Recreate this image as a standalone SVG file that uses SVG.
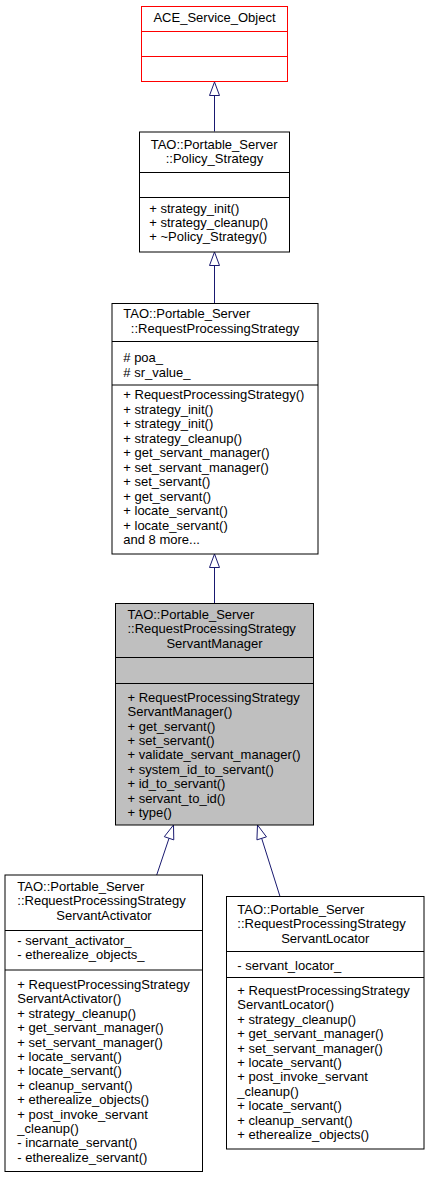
<svg xmlns="http://www.w3.org/2000/svg" width="429" height="1179" viewBox="0 0 429 1179">
<style>
text { font-family: "Liberation Sans", Arial, sans-serif; font-size: 13px; fill: #000; }
.c { text-anchor: middle; }
.box { fill: #fff; stroke: #000; stroke-width: 1; }
.cur { fill: #bfbfbf; stroke: #000; stroke-width: 1; }
.ext { fill: #fff; stroke: #ff0000; stroke-width: 1; }
.sep { stroke: #000; stroke-width: 1; }
.sepr { stroke: #ff0000; stroke-width: 1; }
.edge { stroke: #191970; stroke-width: 1; fill: none; }
.head { fill: #fff; stroke: #191970; stroke-width: 1; }
</style>
<rect width="429" height="1179" fill="#fff"/>

<g id="connectors">
  <line class="edge" x1="214.5" y1="95.5" x2="214.5" y2="131.5"/>
  <polygon class="head" points="214.5,82 209.5,95.5 219.5,95.5"/>
  <line class="edge" x1="214.5" y1="265.5" x2="214.5" y2="303"/>
  <polygon class="head" points="214.5,252 209.5,265.5 219.5,265.5"/>
  <line class="edge" x1="214.5" y1="567.5" x2="214.5" y2="603.5"/>
  <polygon class="head" points="214.5,554 209.5,567.5 219.5,567.5"/>
  <line class="edge" x1="169.04" y1="838.27" x2="156.7" y2="875"/>
  <polygon class="head" points="173.5,825 173.78,839.86 164.3,836.68"/>
  <line class="edge" x1="261.68" y1="838.36" x2="280" y2="896.5"/>
  <polygon class="head" points="257.5,825 266.45,836.87 256.91,839.85"/>
</g>

<g id="ACE_Service_Object">
  <rect class="ext" x="141.5" y="6.5" width="146" height="75"/>
  <line class="sepr" x1="141.5" y1="31.5" x2="287.5" y2="31.5"/>
  <line class="sepr" x1="141.5" y1="56.5" x2="287.5" y2="56.5"/>
  <text class="c" x="214.5" y="21.5">ACE_Service_Object</text>
</g>

<g id="Policy_Strategy">
  <rect class="box" x="139.5" y="132" width="150" height="120"/>
  <line class="sep" x1="139.5" y1="172.5" x2="289.5" y2="172.5"/>
  <line class="sep" x1="139.5" y1="197.5" x2="289.5" y2="197.5"/>
  <text x="150.7" y="148.5">TAO::Portable_Server</text>
  <text class="c" x="214.5" y="163">::Policy_Strategy</text>
  <text x="149.3" y="212.5">+ strategy_init()</text>
  <text x="149.3" y="227">+ strategy_cleanup()</text>
  <text x="149.3" y="241.4">+ ~Policy_Strategy()</text>
</g>

<g id="RequestProcessingStrategy">
  <rect class="box" x="112" y="303.5" width="206" height="250.5"/>
  <line class="sep" x1="112" y1="341.5" x2="318" y2="341.5"/>
  <line class="sep" x1="112" y1="385" x2="318" y2="385"/>
  <text x="123.3" y="318">TAO::Portable_Server</text>
  <text class="c" x="215" y="332.5">::RequestProcessingStrategy</text>
  <text x="123.3" y="362">#  poa_</text>
  <text x="123.3" y="376.5">#  sr_value_</text>
  <text x="123.3" y="399.3">+ RequestProcessingStrategy()</text>
  <text x="123.3" y="413.8">+ strategy_init()</text>
  <text x="123.3" y="428.2">+ strategy_init()</text>
  <text x="123.3" y="442.7">+ strategy_cleanup()</text>
  <text x="123.3" y="457.2">+ get_servant_manager()</text>
  <text x="123.3" y="471.6">+ set_servant_manager()</text>
  <text x="123.3" y="486.1">+ set_servant()</text>
  <text x="123.3" y="500.6">+ get_servant()</text>
  <text x="123.3" y="515">+ locate_servant()</text>
  <text x="123.3" y="529.5">+ locate_servant()</text>
  <text x="123.3" y="544">and 8 more...</text>
</g>

<g id="RequestProcessingStrategyServantManager">
  <rect class="cur" x="115.5" y="603.5" width="198" height="221.5"/>
  <line class="sep" x1="115.5" y1="657.5" x2="313.5" y2="657.5"/>
  <line class="sep" x1="115.5" y1="683.5" x2="313.5" y2="683.5"/>
  <text x="127.5" y="619">TAO::Portable_Server</text>
  <text x="127.5" y="633.4">::RequestProcessingStrategy</text>
  <text class="c" x="214.5" y="648">ServantManager</text>
  <text x="127.5" y="701.7">+ RequestProcessingStrategy</text>
  <text x="127.5" y="716.1">ServantManager()</text>
  <text x="127.5" y="730.5">+ get_servant()</text>
  <text x="127.5" y="744.9">+ set_servant()</text>
  <text x="127.5" y="759.3">+ validate_servant_manager()</text>
  <text x="127.5" y="773.7">+ system_id_to_servant()</text>
  <text x="127.5" y="788.1">+ id_to_servant()</text>
  <text x="127.5" y="802.5">+ servant_to_id()</text>
  <text x="127.5" y="816.9">+ type()</text>
</g>

<g id="RequestProcessingStrategyServantActivator">
  <rect class="box" x="5" y="875" width="197.5" height="296.5"/>
  <line class="sep" x1="5" y1="930.5" x2="202.5" y2="930.5"/>
  <line class="sep" x1="5" y1="970" x2="202.5" y2="970"/>
  <text x="17.3" y="890.7">TAO::Portable_Server</text>
  <text x="17.3" y="905.3">::RequestProcessingStrategy</text>
  <text class="c" x="104" y="920">ServantActivator</text>
  <text x="17.3" y="945">- servant_activator_</text>
  <text x="17.3" y="959.3">- etherealize_objects_</text>
  <text x="17.3" y="989">+ RequestProcessingStrategy</text>
  <text x="17.3" y="1003.4">ServantActivator()</text>
  <text x="17.3" y="1017.8">+ strategy_cleanup()</text>
  <text x="17.3" y="1032.2">+ get_servant_manager()</text>
  <text x="17.3" y="1046.6">+ set_servant_manager()</text>
  <text x="17.3" y="1061">+ locate_servant()</text>
  <text x="17.3" y="1075.4">+ locate_servant()</text>
  <text x="17.3" y="1089.8">+ cleanup_servant()</text>
  <text x="17.3" y="1104.2">+ etherealize_objects()</text>
  <text x="17.3" y="1118.6">+ post_invoke_servant</text>
  <text x="17.3" y="1133">_cleanup()</text>
  <text x="17.3" y="1147.4">- incarnate_servant()</text>
  <text x="17.3" y="1161.8">- etherealize_servant()</text>
</g>

<g id="RequestProcessingStrategyServantLocator">
  <rect class="box" x="226.5" y="896.5" width="197.5" height="252.5"/>
  <line class="sep" x1="226.5" y1="951.5" x2="424" y2="951.5"/>
  <line class="sep" x1="226.5" y1="977.5" x2="424" y2="977.5"/>
  <text x="237.3" y="914">TAO::Portable_Server</text>
  <text x="237.3" y="928.3">::RequestProcessingStrategy</text>
  <text class="c" x="325.3" y="942.7">ServantLocator</text>
  <text x="237.3" y="970">- servant_locator_</text>
  <text x="237.3" y="995">+ RequestProcessingStrategy</text>
  <text x="237.3" y="1009.4">ServantLocator()</text>
  <text x="237.3" y="1023.8">+ strategy_cleanup()</text>
  <text x="237.3" y="1038.2">+ get_servant_manager()</text>
  <text x="237.3" y="1052.6">+ set_servant_manager()</text>
  <text x="237.3" y="1067">+ locate_servant()</text>
  <text x="237.3" y="1081.4">+ post_invoke_servant</text>
  <text x="237.3" y="1095.8">_cleanup()</text>
  <text x="237.3" y="1110.2">+ locate_servant()</text>
  <text x="237.3" y="1124.6">+ cleanup_servant()</text>
  <text x="237.3" y="1139">+ etherealize_objects()</text>
</g>
</svg>
